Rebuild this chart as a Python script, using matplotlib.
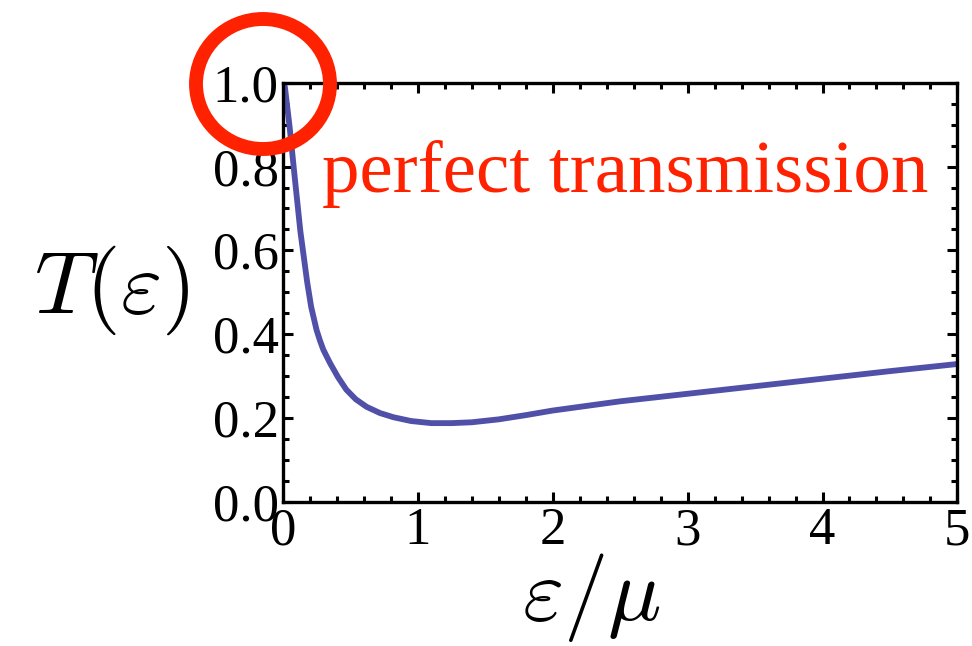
import matplotlib
matplotlib.use("Agg")
import matplotlib.pyplot as plt
from matplotlib.patches import Ellipse
from matplotlib.ticker import MultipleLocator

# transmission probability vs energy
energy = [0.0, 0.015, 0.05, 0.09, 0.13, 0.18, 0.21, 0.25, 0.275, 0.30, 0.35, 0.41,
          0.47, 0.54, 0.62, 0.72, 0.82, 0.95, 1.1, 1.25, 1.4, 1.6, 1.8, 2.0,
          2.5, 3.0, 3.5, 4.0, 4.5, 5.0]
trans = [1.0, 0.99, 0.895, 0.768, 0.645, 0.525, 0.465, 0.41, 0.385, 0.363, 0.331, 0.297,
         0.268, 0.245, 0.227, 0.212, 0.202, 0.193, 0.188, 0.188, 0.190, 0.197, 0.207, 0.218,
         0.240, 0.258, 0.276, 0.294, 0.312, 0.329]

plt.rcParams["mathtext.fontset"] = "cm"
plt.rcParams["font.family"] = "Liberation Serif"

fig = plt.figure(figsize=(9.72, 6.46), dpi=100)
ax = fig.add_axes([0.291, 0.223, 0.694, 0.649])

ax.plot(energy, trans, color="#5050a8", lw=4.2, solid_joinstyle="round")
ax.set_xlim(0, 5)
ax.set_ylim(0, 1)

ax.xaxis.set_major_locator(MultipleLocator(1))
ax.xaxis.set_minor_locator(MultipleLocator(0.2))
ax.yaxis.set_major_locator(MultipleLocator(0.2))
ax.yaxis.set_minor_locator(MultipleLocator(0.05))
ax.xaxis.set_major_formatter(plt.FuncFormatter(lambda v, p: "%d" % v))
ax.yaxis.set_major_formatter(plt.FuncFormatter(lambda v, p: "%.1f" % v))

ax.tick_params(which="both", direction="in", top=True, right=True, width=2.2,
               labelsize=38, colors="black")
ax.tick_params(which="major", length=7)
ax.tick_params(which="minor", length=4)
ax.tick_params(axis="y", pad=3)
ax.tick_params(axis="x", pad=4)
for s in ax.spines.values():
    s.set_linewidth(2.4)

fig.text(112 / 972, 1 - 290 / 646, r"$T(\varepsilon)$", fontsize=64,
         ha="center", va="center")
fig.text(592 / 972, 1 - 598 / 646, r"$\varepsilon/\mu$", fontsize=64,
         ha="center", va="center")

ax.text(0.058, 0.74, "perfect transmission", transform=ax.transAxes,
        fontsize=54, color="#ff2200", ha="left", va="baseline")

# red ring around the T = 1 point
ring = Ellipse((263 / 972, 1 - 84 / 646), 134 / 972, 130 / 646,
               transform=fig.transFigure, fill=False, ec="#ff2200", lw=10,
               clip_on=False)
fig.patches.append(ring)

fig.savefig("out.png", dpi=100)
